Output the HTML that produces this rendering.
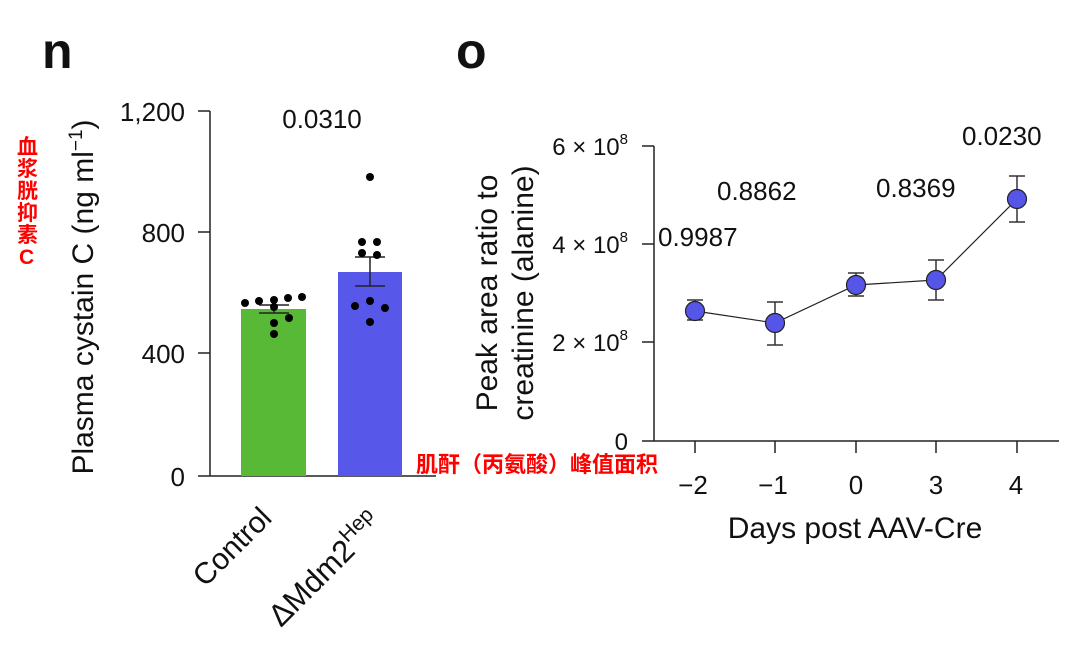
<!DOCTYPE html>
<html><head><meta charset="utf-8"><style>
body{margin:0;background:#fff;width:1080px;height:659px;overflow:hidden}
text{font-family:"Liberation Sans","Noto Sans CJK SC",sans-serif;fill:#111}
</style></head><body>
<svg width="1080" height="659" viewBox="0 0 1080 659">
<text x="42" y="68" font-size="50" font-weight="bold">n</text>
<text x="456" y="68" font-size="50" font-weight="bold">o</text>
<g font-size="21" font-weight="bold">
<text x="17" y="154" style="fill:red">血</text>
<text x="17" y="176" style="fill:red">浆</text>
<text x="17" y="198" style="fill:red">胱</text>
<text x="17" y="220" style="fill:red">抑</text>
<text x="17" y="242" style="fill:red">素</text>
<text x="19" y="264" style="fill:red">C</text>
<text x="416" y="472" font-size="22" style="fill:red">肌酐（丙氨酸）峰值面积</text>
</g>
<g stroke="#222" stroke-width="1.5" fill="none">
<line x1="210" y1="111" x2="210" y2="476"/>
<line x1="198" y1="476" x2="436" y2="476"/>
<line x1="198" y1="111" x2="210" y2="111"/>
<line x1="198" y1="232" x2="210" y2="232"/>
<line x1="198" y1="353" x2="210" y2="353"/>
</g>
<g font-size="26" text-anchor="end">
<text x="185" y="121">1,200</text>
<text x="185" y="242">800</text>
<text x="185" y="363">400</text>
<text x="185" y="486">0</text>
</g>
<text transform="translate(93,297) rotate(-90)" font-size="30" text-anchor="middle">Plasma cystain C (ng ml<tspan dy="-11" font-size="19">−1</tspan><tspan dy="11">)</tspan></text>
<rect x="241" y="309" width="65" height="167" fill="#57b935"/>
<rect x="338" y="272" width="64" height="204" fill="#5757ea"/>
<g stroke="#222" stroke-width="1.5">
<line x1="274" y1="305" x2="274" y2="313"/><line x1="259" y1="305" x2="289" y2="305"/><line x1="259" y1="313" x2="289" y2="313"/>
<line x1="370" y1="257" x2="370" y2="286"/><line x1="355" y1="257" x2="385" y2="257"/><line x1="355" y1="286" x2="385" y2="286"/>
</g>
<g fill="#000">
<circle cx="245" cy="303" r="4"/><circle cx="259" cy="301" r="4"/><circle cx="274" cy="300" r="4"/><circle cx="288" cy="298" r="4"/><circle cx="302" cy="297" r="4"/>
<circle cx="274" cy="307" r="4"/><circle cx="289" cy="318" r="4"/><circle cx="274" cy="323" r="4"/><circle cx="274" cy="334" r="4"/>
<circle cx="370" cy="177" r="4"/><circle cx="362" cy="242" r="4"/><circle cx="377" cy="242" r="4"/><circle cx="362" cy="253" r="4"/><circle cx="377" cy="255" r="4"/>
<circle cx="355" cy="306" r="4"/><circle cx="370" cy="301" r="4"/><circle cx="385" cy="308" r="4"/><circle cx="370" cy="322" r="4"/>
</g>
<text x="322" y="128" font-size="26" text-anchor="middle">0.0310</text>
<text transform="translate(205,588) rotate(-45)" font-size="30">Control</text>
<text transform="translate(281,628) rotate(-45)" font-size="31">ΔMdm2<tspan dy="-13" font-size="21">Hep</tspan></text>
<g stroke="#222" stroke-width="1.5" fill="none">
<line x1="654" y1="146" x2="654" y2="441"/>
<line x1="642" y1="441" x2="1059" y2="441"/>
<line x1="642" y1="146" x2="654" y2="146"/>
<line x1="642" y1="244" x2="654" y2="244"/>
<line x1="642" y1="342" x2="654" y2="342"/>
<line x1="695" y1="441" x2="695" y2="453"/><line x1="775" y1="441" x2="775" y2="453"/><line x1="856" y1="441" x2="856" y2="453"/><line x1="936" y1="441" x2="936" y2="453"/><line x1="1017" y1="441" x2="1017" y2="453"/>
</g>
<g font-size="24" text-anchor="end">
<text x="628" y="155">6 × 10<tspan dy="-11" font-size="15">8</tspan></text>
<text x="628" y="253">4 × 10<tspan dy="-11" font-size="15">8</tspan></text>
<text x="628" y="351">2 × 10<tspan dy="-11" font-size="15">8</tspan></text>
<text x="628" y="450">0</text>
</g>
<g font-size="26" text-anchor="middle">
<text x="693" y="494">−2</text><text x="773" y="494">−1</text><text x="856" y="494">0</text><text x="936" y="494">3</text><text x="1016" y="494">4</text>
</g>
<text x="855" y="538" font-size="30" text-anchor="middle">Days post AAV-Cre</text>
<text transform="translate(497,293) rotate(-90)" font-size="30" text-anchor="middle">Peak area ratio to</text>
<text transform="translate(533,293) rotate(-90)" font-size="30" text-anchor="middle">creatinine (alanine)</text>
<g font-size="26">
<text x="658" y="246">0.9987</text>
<text x="717" y="200">0.8862</text>
<text x="876" y="197">0.8369</text>
<text x="962" y="145">0.0230</text>
</g>
<polyline points="695,311 775,323 856,285 936,280 1017,199" fill="none" stroke="#222" stroke-width="1.2"/>
<g stroke="#333" stroke-width="1.5">
<line x1="695" y1="300" x2="695" y2="320"/><line x1="687" y1="300" x2="703" y2="300"/><line x1="687" y1="320" x2="703" y2="320"/>
<line x1="775" y1="302" x2="775" y2="345"/><line x1="767" y1="302" x2="783" y2="302"/><line x1="767" y1="345" x2="783" y2="345"/>
<line x1="856" y1="273" x2="856" y2="296"/><line x1="848" y1="273" x2="864" y2="273"/><line x1="848" y1="296" x2="864" y2="296"/>
<line x1="936" y1="260" x2="936" y2="300"/><line x1="928" y1="260" x2="944" y2="260"/><line x1="928" y1="300" x2="944" y2="300"/>
<line x1="1017" y1="176" x2="1017" y2="222"/><line x1="1009" y1="176" x2="1025" y2="176"/><line x1="1009" y1="222" x2="1025" y2="222"/>
</g>
<g fill="#5555e8" stroke="#222" stroke-width="1.2">
<circle cx="695" cy="311" r="9.5"/><circle cx="775" cy="323" r="9.5"/><circle cx="856" cy="285" r="9.5"/><circle cx="936" cy="280" r="9.5"/><circle cx="1017" cy="199" r="9.5"/>
</g>
</svg>
</body></html>
